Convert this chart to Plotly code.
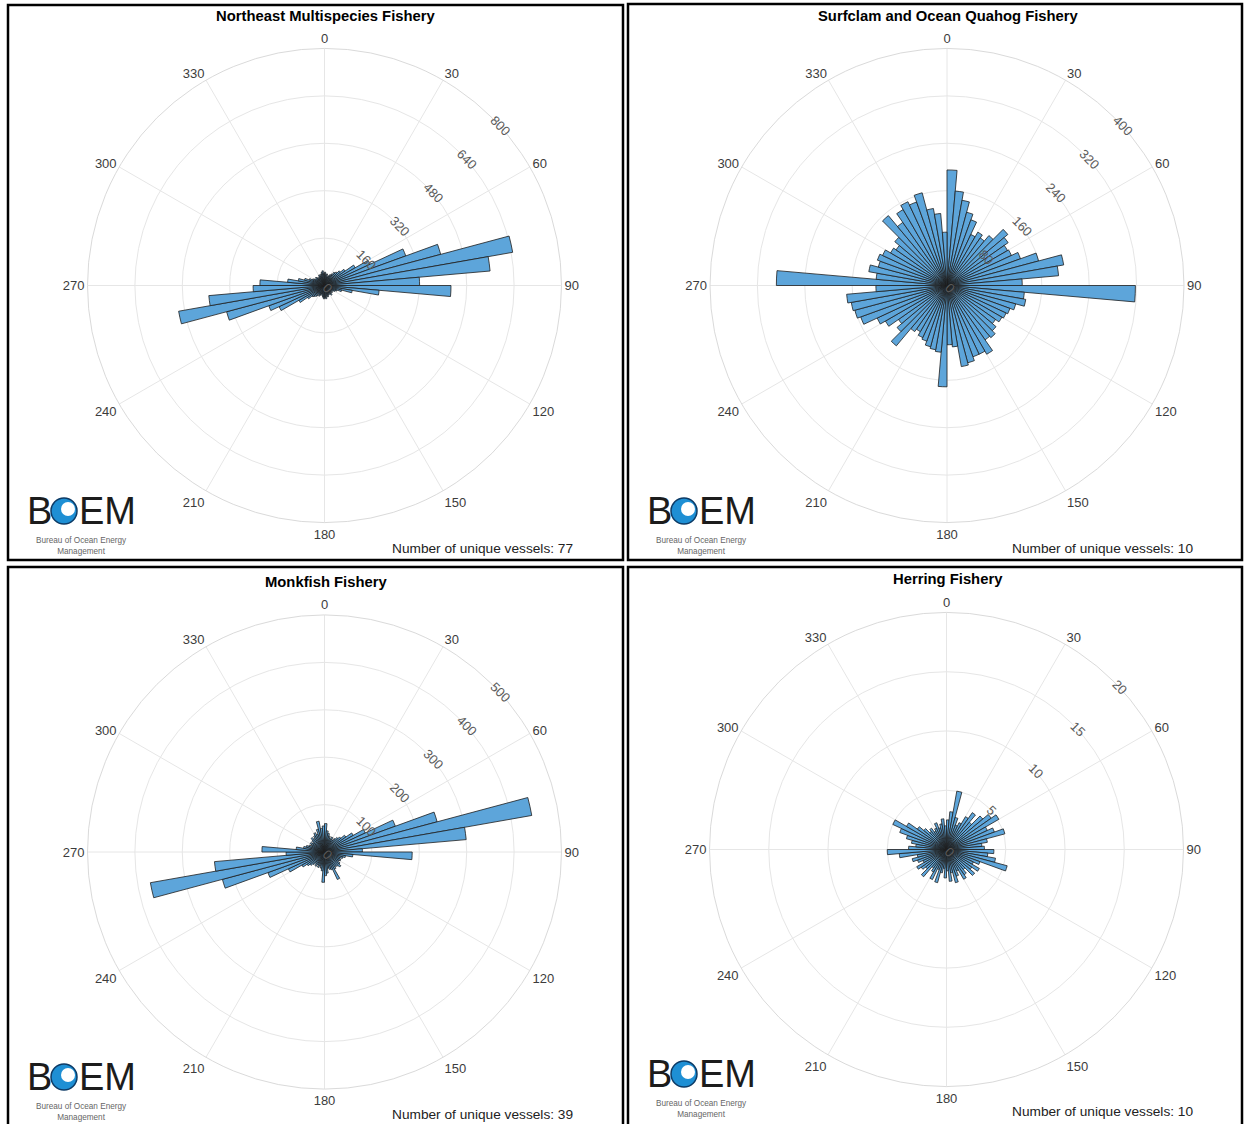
import plotly.graph_objects as go

# ---------------- data ----------------
bin_centers = [2.5 + 5 * i for i in range(72)]
angular_ticks = list(range(0, 360, 30))
angular_labels = [str(a) for a in angular_ticks]

titles = ["Northeast Multispecies Fishery", "Surfclam and Ocean Quahog Fishery",
          "Monkfish Fishery", "Herring Fishery"]
vessel_counts = [77, 10, 39, 10]

northeast_multispecies = [
    45, 35, 40, 30, 35, 40, 45, 55, 60, 70, 85, 120, 170, 292, 406, 645, 561, 321,
    427, 185, 95, 60, 45, 40, 35, 30, 35, 30, 40, 35, 30, 35, 40, 35, 45, 40,
    45, 40, 35, 30, 35, 40, 35, 45, 50, 55, 70, 100, 169, 200, 342, 500, 392, 241,
    218, 125, 90, 70, 55, 45, 40, 35, 40, 35, 30, 35, 40, 35, 40, 45, 50, 40]

surfclam_quahog = [
    195, 160, 146, 128, 118, 95, 104, 98, 110, 134, 126, 118, 120, 132, 160, 200, 189, 127,
    318, 131, 135, 120, 113, 110, 107, 100, 108, 115, 112, 134, 128, 128, 135, 139, 104, 100,
    171, 113, 110, 107, 100, 97, 90, 95, 133, 110, 100, 120, 130, 155, 161, 164, 170, 120,
    288, 120, 134, 120, 125, 120, 110, 105, 115, 154, 130, 148, 156, 150, 162, 132, 122, 90]

monkfish = [
    60, 45, 40, 35, 30, 35, 30, 35, 40, 45, 55, 70, 95, 159, 246, 444, 300, 80,
    185, 60, 45, 40, 35, 38, 35, 40, 45, 40, 38, 42, 64, 40, 38, 35, 45, 50,
    64, 40, 35, 30, 35, 30, 35, 30, 35, 40, 45, 55, 84, 127, 223, 373, 233, 81,
    132, 60, 45, 40, 35, 30, 35, 30, 35, 40, 35, 40, 45, 40, 50, 66, 50, 55]

herring = [
    2.5, 3.2, 5.0, 2.8, 2.2, 2.5, 3.2, 3.8, 3.0, 4.0, 4.6, 5.1, 3.8, 4.3, 5.1, 3.5, 3.0, 3.2,
    4.0, 3.5, 4.2, 5.3, 3.0, 2.5, 3.2, 2.6, 3.1, 2.2, 2.6, 2.9, 2.0, 2.4, 2.9, 2.0, 2.7, 1.8,
    2.4, 1.6, 2.0, 2.9, 1.8, 2.8, 2.2, 1.9, 3.0, 2.3, 2.6, 2.9, 2.2, 2.6, 3.0, 2.5, 4.0, 5.0,
    3.2, 2.6, 3.0, 3.5, 4.2, 5.0, 3.9, 3.0, 2.5, 2.0, 2.2, 1.8, 2.0, 2.4, 1.9, 2.2, 2.6, 2.0]

series = [northeast_multispecies, surfclam_quahog, monkfish, herring]
radial_max = [800, 400, 500, 20]
radial_dtick = [160, 80, 100, 5]

# ---------------- layout helpers ----------------
W, H = 1244, 1124
def X(px):
    return px / W
def Y(py):
    return 1 - py / H

centers = [(324.5, 285.5), (947.0, 285.5), (324.5, 852.0), (946.5, 849.5)]
R = 237
boxes = [(8, 5, 623, 560), (628, 4, 1242, 560), (8, 567, 623, 1130), (628, 567, 1242, 1130)]
title_y = [16, 16, 582, 579]
vessel_y = [548, 548, 1114, 1111]

BAR_COLOR = "#5DA5DA"
GRID = "#e6e6e6"
FONT = "Liberation Sans, Arial, sans-serif"

fig = go.Figure()
shapes = []
annotations = []

for k in range(4):
    pname = "polar" if k == 0 else f"polar{k+1}"
    fig.add_trace(go.Barpolar(
        r=series[k], theta=bin_centers, width=[5] * 72,
        marker=dict(color=BAR_COLOR, line=dict(color="#1e1e1e", width=0.8)),
        subplot=pname, showlegend=False, hoverinfo="r+theta"))
    cx, cy = centers[k]
    fig.layout[pname] = dict(
        domain=dict(x=[X(cx - R), X(cx + R)], y=[Y(cy + R), Y(cy - R)]),
        bgcolor="white",
        angularaxis=dict(rotation=90, direction="clockwise", tickmode="array",
                         tickvals=angular_ticks, ticktext=angular_labels,
                         showgrid=True, gridcolor=GRID, gridwidth=1,
                         showline=True, linecolor="#dadada", linewidth=1,
                         ticks="", tickfont=dict(family=FONT, size=13, color="#3c3c3c")),
        radialaxis=dict(range=[0, radial_max[k]], dtick=radial_dtick[k], tick0=0,
                        angle=45, tickangle=90, showline=False, ticks="",
                        showgrid=True, gridcolor=GRID, gridwidth=1,
                        tickfont=dict(family=FONT, size=13, color="#5a5a5a")),
    )
    # panel border
    x0, y0, x1, y1 = boxes[k]
    shapes.append(dict(type="rect", xref="paper", yref="paper",
                       x0=X(x0), x1=X(x1), y0=Y(y1), y1=Y(y0),
                       line=dict(color="black", width=2.5), fillcolor="rgba(0,0,0,0)"))
    # title
    annotations.append(dict(text="<b>" + titles[k] + "</b>", x=X(cx + 1), y=Y(title_y[k]),
                            xref="paper", yref="paper", showarrow=False,
                            xanchor="center", yanchor="middle",
                            font=dict(family=FONT, size=14.8, color="black")))
    # vessel count
    annotations.append(dict(text=f"Number of unique vessels: {vessel_counts[k]}",
                            x=X(x0 + 567), y=Y(vessel_y[k]), xref="paper", yref="paper",
                            showarrow=False, xanchor="right", yanchor="middle",
                            font=dict(family=FONT, size=13.7, color="#222")))
    # BOEM logo
    lx = x0 + 19
    ly = vessel_y[k] - 37
    annotations.append(dict(text="B", x=X(lx - 2), y=Y(ly), xref="paper", yref="paper",
                            showarrow=False, xanchor="left", yanchor="middle", height=30,
                            font=dict(family=FONT, size=38, color="#1c1c1c")))
    annotations.append(dict(text="EM", x=X(lx + 50), y=Y(ly), xref="paper", yref="paper",
                            showarrow=False, xanchor="left", yanchor="middle", height=30,
                            font=dict(family=FONT, size=38, color="#1c1c1c")))
    ocx, ocy, orr = lx + 37, ly, 13
    shapes.append(dict(type="circle", xref="paper", yref="paper",
                       x0=X(ocx - orr), x1=X(ocx + orr), y0=Y(ocy + orr), y1=Y(ocy - orr),
                       fillcolor="#1e8fd4", line=dict(color="#0d3b66", width=1.5)))
    shapes.append(dict(type="circle", xref="paper", yref="paper",
                       x0=X(ocx - 3), x1=X(ocx + 11), y0=Y(ocy + 5), y1=Y(ocy - 9),
                       fillcolor="white", line=dict(width=0)))
    annotations.append(dict(text="Bureau of Ocean Energy<br>Management",
                            x=X(lx + 54), y=Y(ly + 23), xref="paper", yref="paper",
                            showarrow=False, xanchor="center", yanchor="top",
                            font=dict(family=FONT, size=8.2, color="#666")))

fig.update_layout(
    width=W, height=H, template="none",
    margin=dict(l=0, r=0, t=0, b=0),
    paper_bgcolor="white", plot_bgcolor="white",
    shapes=shapes, annotations=annotations, showlegend=False,
)

fig.write_html("out.html", config={"displayModeBar": False},
               post_script="document.body.style.margin='0';document.body.style.overflow='hidden';")
